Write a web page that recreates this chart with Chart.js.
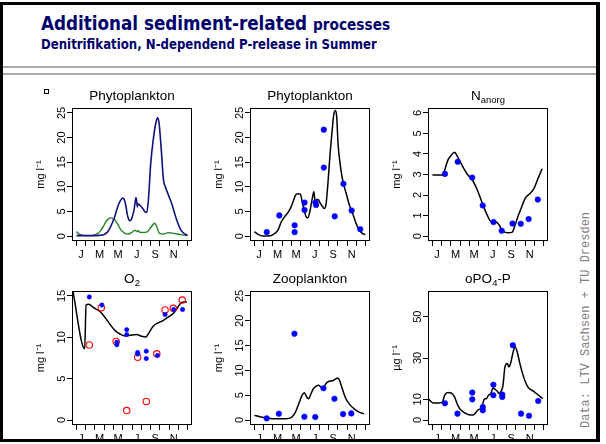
<!DOCTYPE html>
<html>
<head>
<meta charset="utf-8">
<script src="https://cdn.jsdelivr.net/npm/chart.js@4.4.1/dist/chart.umd.min.js"></script>
<style>
  body { margin:0; width:606px; height:444px; overflow:hidden; background:#fff; position:relative; font-family:'Liberation Sans', Arial, sans-serif; }
  #frame { position:absolute; left:0; top:2px; width:593px; height:434px; border-style:solid; border-color:#000; border-width:3px 4px 3px 3px; }
  .hl { position:absolute; left:3px; width:593px; height:2px; background:#aaa; }
  .head { position:absolute; left:41px; font-family:'DejaVu Sans', Verdana, sans-serif; font-weight:bold; color:#00006b; white-space:nowrap; transform-origin:0 0; }
  #h1 { top:13.9px; font-size:19px; line-height:19px; }
  #h1 span { font-size:15.5px; }
  #h2 { top:38.3px; font-size:13.8px; line-height:13.8px; }
  .pt { position:absolute; width:180px; text-align:center; font-size:13.5px; line-height:13.5px; white-space:nowrap; color:#000; }
  .pt sub { font-size:0.7em; vertical-align:-0.3em; line-height:0; }
  #src { position:absolute; left:478px; top:313px; width:216px; height:14px; line-height:14px; font-family:'Liberation Mono', 'DejaVu Sans Mono', monospace; font-size:12px; color:#808080; white-space:nowrap; transform:rotate(-90deg); }
  #sq { position:absolute; left:44px; top:89px; width:3px; height:3px; border:1px solid #000; }
  canvas { position:absolute; }
</style>
</head>
<body>
<div id="frame"></div>
<div class="hl" style="top:66px"></div>
<div class="hl" style="top:73px"></div>
<div id="h1" class="head">Additional sediment-related <span>processes</span></div>
<div id="h2" class="head">Denitrifikation, N-dependend P-release in Summer</div>
<div id="sq"></div>
<div id="src">Data: LTV Sachsen + TU Dresden</div>

<script>
// Monatsachse: Striche an Monatsgrenzen, Beschriftung in Monatsmitte
const monthTicks = [0, 1, 2, 3, 4, 5, 6, 7, 8, 9, 10, 11, 12];
const monthLabelPos = [0.5, 2.5, 4.5, 6.5, 8.5, 10.5];
const monthLabels = ['J', 'M', 'M', 'J', 'S', 'N'];

const yTicksBio = [0, 5, 10, 15, 20, 25];
const yTicksN = [0, 1, 2, 3, 4, 5, 6];
const yTicksO2 = [0, 5, 10, 15];
const yTicksP = [0, 10, 30, 50];

// Phytoplankton (Simulation, zwei Gruppen)
const phytoBlue = [[0,0.1],[1,0.1],[2,0.1],[2.8,0.2],[3.07,0.4],[3.35,0.8],[3.61,1.6],[3.9,2.8],[4.16,4.1],[4.35,5.3],[4.52,6.3],[4.75,7.2],[4.99,7.7],[5.12,7.6],[5.24,7.0],[5.37,5.8],[5.49,4.4],[5.65,3.4],[5.78,3.1],[5.96,3.5],[6.1,4.4],[6.22,5.3],[6.35,7.0],[6.43,7.8],[6.5,7.2],[6.58,5.9],[6.65,6.5],[6.72,6.5],[6.84,6.3],[6.94,6.1],[7.16,5.6],[7.41,4.9],[7.59,4.8],[7.77,7.3],[8.02,14.7],[8.31,19.8],[8.6,23.2],[8.78,24.0],[8.93,22.8],[9.14,18.1],[9.4,11.4],[9.58,10.1],[9.94,8.3],[10.3,6.5],[10.84,3.2],[11.28,1.2],[11.64,0.5],[12,0.2]];
const phytoGreen = [[0,0.9],[0.29,0.4],[0.72,0.15],[1.63,0.1],[2.17,0.4],[2.53,0.9],[2.89,1.9],[3.25,3.1],[3.69,3.7],[4.05,3.4],[4.41,2.6],[4.77,1.35],[5.24,0.55],[5.6,0.4],[5.96,0.7],[6.32,1.2],[6.51,0.9],[6.69,1.1],[6.87,0.75],[7.41,0.75],[7.77,1.1],[8.13,2.0],[8.46,2.6],[8.67,1.9],[8.96,0.55],[9.4,0.4],[9.94,0.7],[10.48,0.55],[11.2,0.3],[12,0.07]];

// Phytoplankton gesamt: Simulation + Messung
const phytoSim = [[0,0.9],[0.39,0.35],[0.93,0.0],[1.47,0.0],[2.01,0.3],[2.54,1.2],[2.9,2.9],[3.26,3.9],[3.8,5.3],[4.16,6.9],[4.44,8.3],[4.69,8.6],[4.95,8.5],[5.23,6.3],[5.59,3.9],[5.77,3.7],[6.02,5.3],[6.24,7.6],[6.42,9.0],[6.56,6.9],[6.74,7.4],[6.88,7.4],[7.1,6.7],[7.31,6.1],[7.53,5.6],[7.74,6.6],[7.96,11.3],[8.17,16.7],[8.39,21.4],[8.57,24.7],[8.75,25.5],[8.89,24.1],[9.03,18.7],[9.25,14.7],[9.46,12.0],[9.71,10.0],[9.96,8.3],[10.25,6.3],[10.61,4.6],[10.97,2.6],[11.33,1.2],[11.68,0.5],[11.97,0.3]];
const phytoObs = [[1.33,0.8],[2.69,4.2],[4.34,2.2],[4.34,0.8],[5.41,6.8],[5.41,5.3],[6.59,6.8],[6.65,6.3],[7.49,21.6],[7.49,13.9],[8.67,4.0],[9.61,10.6],[10.5,5.2],[11.43,1.4]];

// anorganischer Stickstoff
const nSim = [[0,2.98],[1.13,2.98],[1.31,3.2],[1.67,3.7],[2.02,3.93],[2.38,4.08],[2.73,3.85],[3.26,3.4],[3.79,3.0],[4.33,2.72],[4.86,2.23],[5.39,1.59],[5.92,1.02],[6.28,0.73],[6.81,0.7],[7.16,0.57],[7.52,0.29],[7.87,0.18],[8.23,0.16],[8.58,0.18],[8.87,0.45],[9.22,0.94],[9.57,1.34],[10.0,1.83],[10.53,2.07],[10.96,2.31],[11.35,2.75],[11.84,3.28]];
const nObs = [[1.35,3.03],[2.73,3.62],[4.29,2.85],[5.43,1.49],[6.6,0.68],[7.48,0.26],[8.65,0.61],[9.54,0.6],[10.39,0.83],[11.38,1.78]];

// Sauerstoff: Simulation, Messung (blau) und zweite Messreihe (rot, offen)
const o2Sim = [[-0.4,15.7],[0.89,8.62],[1.04,13.9],[1.32,14.0],[1.86,13.58],[2.57,13.09],[3.11,12.36],[3.64,11.54],[4.18,10.81],[4.71,10.4],[5.25,10.16],[5.79,10.24],[6.5,10.33],[7.04,10.12],[7.5,10.04],[7.75,10.4],[8.29,11.34],[8.82,11.75],[9.36,12.03],[9.89,12.44],[10.43,12.85],[10.79,13.37],[11.21,14.07],[11.5,14.27],[11.93,14.27]];
const o2ObsBlue = [[1.39,14.88],[2.75,13.9],[4.36,9.4],[4.36,9.1],[5.43,10.93],[5.43,10.33],[6.61,8.17],[6.61,7.97],[7.54,8.33],[7.54,7.44],[8.75,7.8],[9.57,12.76],[10.5,13.37],[11.46,13.37]];
const o2ObsRed = [[1.39,9.07],[2.68,13.58],[4.29,9.5],[5.43,1.14],[6.61,7.6],[7.54,2.24],[8.68,8.0],[9.57,13.3],[10.46,13.5],[11.43,14.5]];

// Zooplankton
const zooSim = [[0,0.94],[0.57,0.67],[1.29,0.4],[2.0,0.27],[2.71,0.27],[3.43,0.27],[3.96,0.47],[4.43,1.6],[4.79,3.3],[5.14,4.97],[5.39,5.5],[5.64,4.64],[5.86,4.3],[6.11,5.3],[6.36,6.3],[6.64,6.8],[6.93,7.0],[7.18,6.65],[7.43,6.45],[7.71,7.3],[8.07,7.8],[8.43,7.9],[8.71,8.2],[8.96,8.47],[9.14,8.2],[9.43,6.65],[9.79,4.64],[10.21,3.3],[10.75,2.28],[11.29,1.6],[11.82,1.28]];
const zooObs = [[1.32,0.34],[2.64,1.28],[4.32,17.4],[5.39,0.67],[6.57,0.6],[7.46,6.4],[8.64,4.3],[9.57,1.2],[10.46,1.34]];

// ortho-Phosphat
const po4Sim = [[-0.4,10.0],[0.07,8.25],[0.78,8.25],[1.07,8.7],[1.32,12.0],[1.67,13.3],[2.03,13.1],[2.38,11.2],[2.74,7.1],[3.1,4.7],[3.63,3.1],[4.16,2.4],[4.52,2.75],[4.88,4.7],[5.34,6.3],[5.59,10.0],[5.84,10.4],[6.05,12.0],[6.3,12.8],[6.55,15.5],[6.76,14.9],[7.01,13.9],[7.19,12.8],[7.37,13.6],[7.62,16.8],[7.83,25.7],[8.08,27.3],[8.26,25.7],[8.43,27.3],[8.68,32.2],[8.9,35.4],[9.15,33.0],[9.4,28.1],[9.68,23.3],[10.04,18.4],[10.39,15.5],[10.93,13.9],[11.46,12.0],[11.89,10.4]];
const po4Obs = [[1.35,8.1],[2.7,3.1],[4.3,13.3],[4.3,10.0],[5.44,6.3],[5.44,4.7],[6.58,17.1],[6.58,12.0],[7.54,12.3],[7.54,11.2],[8.68,36.2],[9.57,3.1],[10.43,2.1],[11.42,9.2]];

const FONT = "'Liberation Sans', Arial, sans-serif";
const xTickVals = monthTicks.concat(monthLabelPos).sort((a, b) => a - b);

function pts(arr) { return arr.map(p => ({x: p[0], y: p[1]})); }

function simLine(arr, color, width) {
  return { data: pts(arr), showLine: true, borderColor: color, borderWidth: width || 1.5,
           pointRadius: 0, cubicInterpolationMode: 'monotone', tension: 0.3, fill: false };
}
function dots(arr, r) {
  return { data: pts(arr), pointRadius: r || 2.8, pointBackgroundColor: '#0000ff',
           pointBorderColor: '#0000ff', pointBorderWidth: 0.5 };
}
function rings(arr) {
  return { data: pts(arr), pointRadius: 3.2, pointBackgroundColor: 'rgba(0,0,0,0)',
           pointBorderColor: '#ff0000', pointBorderWidth: 1.1 };
}

// Rahmen um die Plotflaeche
const boxPlugin = {
  id: 'box',
  afterDatasetsDraw(chart) {
    const a = chart.chartArea, c = chart.ctx;
    c.save();
    c.strokeStyle = '#000';
    c.lineWidth = 1;
    c.strokeRect(Math.round(a.left) + 0.5, Math.round(a.top) + 0.5, Math.round(a.width) - 1, Math.round(a.height) - 1);
    c.restore();
  }
};

function halfLabel(ticks) {
  const c = document.createElement('canvas').getContext('2d');
  c.font = '11px ' + FONT;
  return Math.max(...ticks.map(t => c.measureText(String(t)).width)) / 2;
}

function makePanel(p) {
  const H = 12 + p.h + 24;
  const cv = document.createElement('canvas');
  cv.width = 190; cv.height = H;
  cv.style.left = (p.left - 62) + 'px';
  cv.style.top = (p.top - 12) + 'px';
  cv.style.width = '190px'; cv.style.height = H + 'px';
  document.body.appendChild(cv);

  const span = p.ylim[1] - p.ylim[0];
  new Chart(cv, {
    type: 'scatter',
    data: { datasets: p.datasets },
    plugins: [boxPlugin],
    options: {
      responsive: false, animation: false, devicePixelRatio: 1,
      layout: { padding: { left: 0, top: 12, right: 8, bottom: 0 } },
      plugins: { legend: { display: false }, tooltip: { enabled: false } },
      scales: {
        x: {
          type: 'linear', position: 'bottom', min: -0.48, max: 12.48,
          afterBuildTicks: s => { s.ticks = xTickVals.map(v => ({value: v})); },
          afterFit: s => { s.height = 24; },
          grid: { drawOnChartArea: false, tickLength: 5, lineWidth: 1, color: '#000',
                  tickColor: c => (c.tick && Number.isInteger(c.tick.value)) ? '#000' : 'rgba(0,0,0,0)' },
          border: { display: false },
          ticks: { autoSkip: false, minRotation: 0, maxRotation: 0, padding: 2, color: '#000',
                   font: { family: FONT, size: 11 },
                   callback: v => { const i = monthLabelPos.indexOf(v); return i >= 0 ? monthLabels[i] : ''; } }
        },
        y: {
          type: 'linear', position: 'left',
          min: p.ylim[0] - 0.04 * span, max: p.ylim[1] + 0.04 * span,
          afterBuildTicks: s => { s.ticks = p.yticks.map(v => ({value: v})); },
          afterFit: s => { s.width = 62; },
          grid: { drawOnChartArea: false, tickLength: 5, lineWidth: 1, color: '#000' },
          border: { display: false },
          ticks: { autoSkip: false, minRotation: 90, maxRotation: 90, crossAlign: 'center',
                   padding: 5.5 - halfLabel(p.yticks), color: '#000',
                   font: { family: FONT, size: 11 }, callback: v => String(v) },
          title: { display: true, text: p.ytitle, color: '#000', font: { family: FONT, size: 11 },
                   padding: { top: 23.9, bottom: 0 } }
        }
      }
    }
  });

  const t = document.createElement('div');
  t.className = 'pt';
  t.innerHTML = p.title;
  t.style.left = (p.left + 60 - 90) + 'px';
  t.style.top = (p.top - 19.4) + 'px';
  document.body.appendChild(t);
}

const colLeft = [72, 250, 428];
const rowTop = [108, 291];
const rowH = [133, 134];

const panels = [
  { left: colLeft[0], top: rowTop[0], h: rowH[0], title: 'Phytoplankton', ytitle: 'mg l\u207B\u00B9',
    ylim: [0, 25], yticks: yTicksBio,
    datasets: [simLine(phytoBlue, '#12127e', 1.6), simLine(phytoGreen, '#1f7f1f', 1.4)] },
  { left: colLeft[1], top: rowTop[0], h: rowH[0], title: 'Phytoplankton', ytitle: 'mg l\u207B\u00B9',
    ylim: [0, 25], yticks: yTicksBio,
    datasets: [dots(phytoObs), simLine(phytoSim, '#000')] },
  { left: colLeft[2], top: rowTop[0], h: rowH[0], title: 'N<sub>anorg</sub>', ytitle: 'mg l\u207B\u00B9',
    ylim: [0, 6], yticks: yTicksN,
    datasets: [dots(nObs), simLine(nSim, '#000')] },
  { left: colLeft[0], top: rowTop[1], h: rowH[1], title: 'O<sub>2</sub>', ytitle: 'mg l\u207B\u00B9',
    ylim: [0, 15], yticks: yTicksO2,
    datasets: [dots(o2ObsBlue, 2.2), rings(o2ObsRed), simLine(o2Sim, '#000')] },
  { left: colLeft[1], top: rowTop[1], h: rowH[1], title: 'Zooplankton', ytitle: 'mg l\u207B\u00B9',
    ylim: [0, 25], yticks: yTicksBio,
    datasets: [dots(zooObs), simLine(zooSim, '#000')] },
  { left: colLeft[2], top: rowTop[1], h: rowH[1], title: 'oPO<sub>4</sub>-P', ytitle: '\u00B5g l\u207B\u00B9',
    ylim: [0, 60], yticks: yTicksP,
    datasets: [dots(po4Obs), simLine(po4Sim, '#000')] }
];

panels.forEach(makePanel);

// Ueberschriften auf Zielbreite bringen
function fitWidth(id, target) {
  const el = document.getElementById(id);
  el.style.transform = 'scaleX(' + (target / el.offsetWidth) + ')';
}
fitWidth('h1', 349);
fitWidth('h2', 336);
</script>
</body>
</html>
